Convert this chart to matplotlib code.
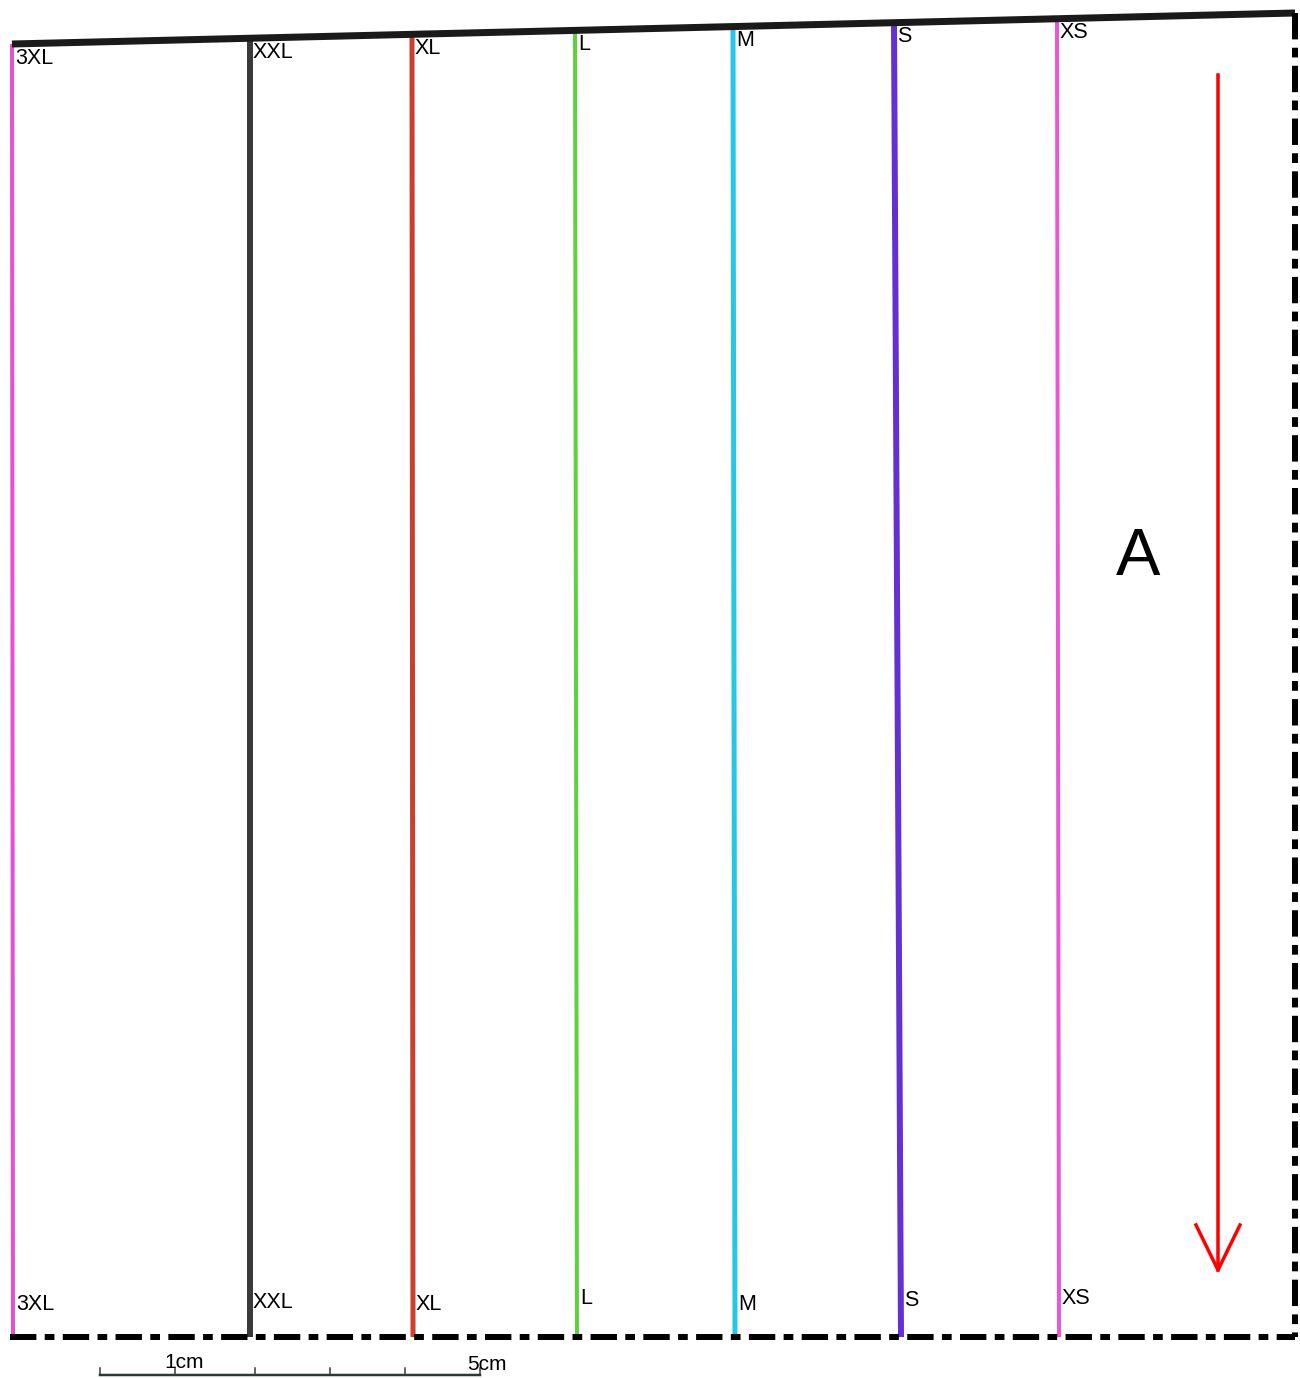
import matplotlib.pyplot as plt

plt.rcParams['font.family'] = ['Liberation Sans', 'DejaVu Sans']
plt.rcParams['lines.scale_dashes'] = False

# --- dados (coordenadas em pixels da folha digitalizada) ---
tamanhos = ['3XL', 'XXL', 'XL', 'L', 'M', 'S', 'XS']
x_topo = [12, 250, 412, 575, 733, 894, 1057]
x_base = [13, 250, 413, 577, 735, 901, 1059]
cores = ['#e84fd2', '#3a3a3a', '#c9402e', '#5dd23c', '#25c6e6', '#6430d2', '#e858d4']
larguras = [4, 6, 5, 4, 5, 6, 4]
y_rotulo_base = [1305, 1302, 1304, 1299, 1304, 1301, 1299]

linha_topo_x = [12, 1295]
linha_topo_y = [44, 13]
y_base = 1337
x_direita = 1295

seta_x = 1218
seta_y = [75, 1270]

escala_x = [100, 175, 255, 330, 405, 480]
escala_y = 1375
escala_textos = ['1cm', '5cm']
# -----------------------------------------------------------

W, H = 1300, 1378
DPI = 100
px = 72 / DPI  # pixels -> pontos

fig = plt.figure(figsize=(W / DPI, H / DPI), dpi=DPI)
ax = fig.add_axes([0, 0, 1, 1])
ax.set_xlim(0, W)
ax.set_ylim(H, 0)
ax.axis('off')


def y_no_topo(x):
    # altura da linha preta inclinada no ponto x
    x0, x1 = linha_topo_x
    y0, y1 = linha_topo_y
    return y0 + (y1 - y0) * (x - x0) / (x1 - x0)


# linhas dos tamanhos
for nome, xt, xb, cor, lw, yr in zip(tamanhos, x_topo, x_base, cores, larguras, y_rotulo_base):
    ax.plot([xt, xb], [y_no_topo(xt), y_base], color=cor, lw=lw * px,
            solid_capstyle='butt', zorder=2)
    ax.text(xt + 3, y_no_topo(xt) + 14, nome, fontsize=15.5, va='center', ha='left', zorder=4)
    ax.text(xb + 3, yr, nome, fontsize=15.5, va='center', ha='left', zorder=4)

# linha preta do topo
ax.plot(linha_topo_x, linha_topo_y, color='#1a1a1a', lw=7 * px,
        solid_capstyle='butt', zorder=3)

# bordas tracejadas (corte)
tracejado = (0, (19, 6, 7, 6))
ax.plot([10, x_direita], [y_base, y_base], color='black', lw=6 * px,
        linestyle=tracejado, zorder=3)
ax.plot([x_direita, x_direita], [linha_topo_y[1], y_base], color='black', lw=6 * px,
        linestyle=tracejado, zorder=3)

# seta vermelha (fio do tecido)
ax.plot([seta_x, seta_x], seta_y, color='#ff0000', lw=3.5 * px, zorder=3)
ax.plot([seta_x - 22, seta_x, seta_x + 22], [seta_y[1] - 45, seta_y[1], seta_y[1] - 45],
        color='#ff0000', lw=3.5 * px, zorder=3)
ax.text(1138, 558, 'A', fontsize=48, ha='center', va='center', zorder=4)

# escala
ax.plot([escala_x[0], escala_x[-1]], [escala_y, escala_y], color='#2b3a30', lw=2.5 * px)
for xe in escala_x:
    ax.plot([xe, xe], [escala_y - 7, escala_y], color='#2b3a30', lw=1.5 * px)
ax.text(184, 1362, escala_textos[0], fontsize=15, ha='center', va='center')
ax.text(487, 1365, escala_textos[1], fontsize=15, ha='center', va='center')

fig.savefig('out.png', dpi=DPI)
